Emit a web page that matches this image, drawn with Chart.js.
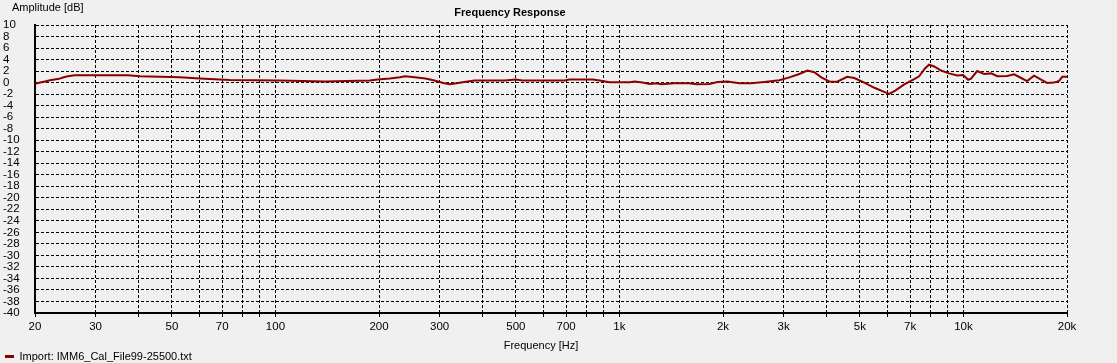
<!DOCTYPE html>
<html>
<head>
<meta charset="utf-8">
<script src="https://cdn.jsdelivr.net/npm/chart.js@4/dist/chart.umd.min.js"></script>
<style>
  html, body { margin: 0; padding: 0; background: #f0f0f0; }
  #wrap { width: 1117px; height: 363px; }
</style>
</head>
<body>
<div id="wrap"><canvas id="c" width="1117" height="363"></canvas></div>
<script>
// ---- data ----
const frequencies = [20, 20.7, 21.4, 22.1, 23.5, 24.1, 24.9, 26.1, 37.2, 40.4, 52.7, 60.3, 73.7, 103, 139, 188, 198, 215, 230, 238, 254, 273, 288, 300, 310, 321, 336, 350, 362, 379, 464, 499, 523, 692, 716, 836, 876, 936, 1070, 1107, 1167, 1224, 1282, 1325, 1445, 1596, 1675, 1825, 1926, 2061, 2233, 2417, 2636, 2916, 3120, 3334, 3517, 3685, 3862, 4074, 4296, 4592, 4818, 5152, 5508, 5930, 6081, 6335, 6730, 7194, 7430, 7740, 7944, 8220, 8610, 9080, 9596, 9980, 10320, 10520, 10960, 11480, 12040, 12540, 13400, 14040, 14720, 15310, 16040, 16820, 17500, 18330, 18980, 19370, 20000];
const amplitudes = [-0.2, 0.0, 0.2, 0.4, 0.65, 0.88, 1.1, 1.28, 1.28, 1.1, 0.93, 0.7, 0.47, 0.35, 0.18, 0.35, 0.53, 0.7, 0.93, 1.1, 0.93, 0.7, 0.4, 0.12, -0.12, -0.3, -0.12, 0.05, 0.18, 0.35, 0.35, 0.53, 0.35, 0.35, 0.53, 0.53, 0.35, 0.05, 0.05, 0.18, 0.0, -0.23, -0.1, -0.3, -0.12, -0.12, -0.3, -0.23, 0.12, 0.18, -0.12, -0.12, 0.12, 0.4, 0.9, 1.5, 2.1, 1.8, 0.9, 0.2, 0.15, 1.0, 0.8, 0.0, -0.9, -1.7, -1.95, -1.4, -0.3, 0.6, 1.1, 2.5, 3.1, 2.8, 2.1, 1.6, 1.25, 1.3, 0.5, 0.7, 2.0, 1.5, 1.6, 1.1, 1.15, 1.45, 0.8, 0.25, 1.2, 0.5, -0.05, 0.0, 0.3, 1.0, 1.0];
const seriesName = 'Import: IMM6_Cal_File99-25500.txt';
const xTickValues = [20, 30, 40, 50, 60, 70, 80, 90, 100, 200, 300, 400, 500, 600, 700, 800, 900, 1000, 2000, 3000, 4000, 5000, 6000, 7000, 8000, 9000, 10000, 20000];
const xTickLabels = ['20', '30', '', '50', '', '70', '', '', '100', '200', '300', '', '500', '', '700', '', '', '1k', '2k', '3k', '', '5k', '', '7k', '', '', '10k', '20k'];
const yTickMin = -40, yTickMax = 10, yTickStep = 2;
const chartTitle = 'Frequency Response';
const xAxisTitle = 'Frequency [Hz]';
const yAxisTitle = 'Amplitude [dB]';

const FONT = '"Liberation Sans", Arial, sans-serif';

const textPlugin = {
  id: 'texts',
  afterDraw(chart) {
    const ctx = chart.ctx;
    ctx.save();
    ctx.fillStyle = '#000';
    ctx.textBaseline = 'alphabetic';
    ctx.font = '11px ' + FONT;
    ctx.textAlign = 'left';
    ctx.fillText(yAxisTitle, 12, 11);
    ctx.font = 'bold 11px ' + FONT;
    ctx.textAlign = 'center';
    ctx.fillText(chartTitle, 510, 16);
    ctx.font = '11px ' + FONT;
    ctx.fillText(xAxisTitle, 541, 349);
    ctx.restore();
  }
};

new Chart(document.getElementById('c'), {
  type: 'line',
  data: {
    datasets: [{
      label: seriesName,
      data: frequencies.map((f, i) => ({ x: f, y: amplitudes[i] })),
      borderColor: '#8b0000',
      backgroundColor: '#8b0000',
      borderWidth: 2,
      pointRadius: 0,
      tension: 0,
      fill: false
    }]
  },
  options: {
    responsive: false,
    animation: false,
    devicePixelRatio: 1,
    layout: { padding: { left: 3, right: 50, top: 25, bottom: -9 } },
    plugins: {
      title: { display: false },
      tooltip: { enabled: false },
      legend: {
        display: true,
        position: 'bottom',
        align: 'start',
        labels: {
          boxWidth: 9,
          boxHeight: 3,
          padding: 2,
          color: '#000',
          font: { family: FONT, size: 11 },
          generateLabels(chart) {
            const items = Chart.defaults.plugins.legend.labels.generateLabels(chart);
            items.forEach(it => { it.lineWidth = 0; it.fillStyle = '#8b0000'; });
            return items;
          }
        }
      }
    },
    scales: {
      x: {
        type: 'logarithmic',
        min: 20,
        max: 20000,
        afterBuildTicks(scale) {
          scale.ticks = xTickValues.map(v => ({ value: v }));
        },
        afterFit(scale) { scale.height = 36; },
        ticks: {
          autoSkip: false,
          maxRotation: 0,
          padding: 2,
          color: '#000',
          font: { family: FONT, size: 11.5 },
          callback(value) {
            const i = xTickValues.indexOf(value);
            return i >= 0 ? xTickLabels[i] : '';
          }
        },
        grid: {
          color: '#000',
          lineWidth: 1,
          drawTicks: true,
          tickLength: 5,
          tickColor: '#000',
          tickBorderDash: [3, 2]
        },
        border: { display: true, color: '#000', width: 2, dash: [3, 2] }
      },
      y: {
        type: 'linear',
        min: yTickMin,
        max: yTickMax,
        afterFit(scale) { scale.width = 32; },
        ticks: {
          stepSize: yTickStep,
          autoSkip: false,
          crossAlign: 'far',
          padding: 0,
          color: '#000',
          font: { family: FONT, size: 11.5 }
        },
        grid: {
          color: '#000',
          lineWidth: 1,
          drawTicks: false
        },
        border: { display: true, color: '#000', width: 2, dash: [3, 2] }
      }
    }
  },
  plugins: [textPlugin]
});
</script>
</body>
</html>
